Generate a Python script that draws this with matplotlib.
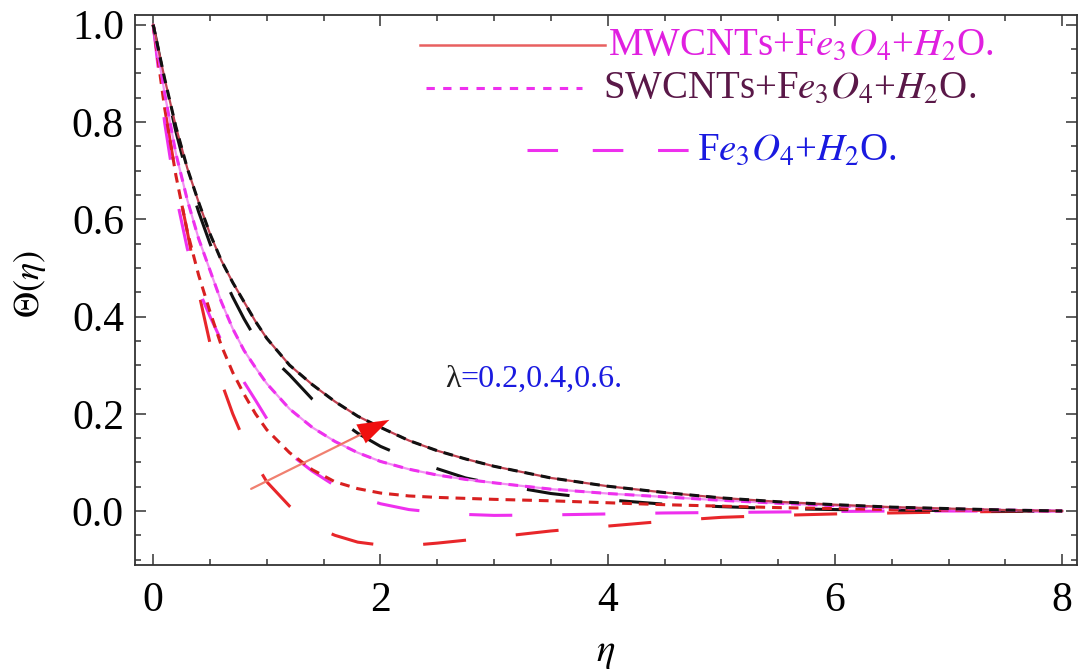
import numpy as np
import matplotlib
matplotlib.use("Agg")
import matplotlib.pyplot as plt
from matplotlib.ticker import MultipleLocator

# ---------------- data ----------------
eta = [0, 0.1, 0.2, 0.3, 0.4, 0.5, 0.6, 0.7, 0.8, 0.9, 1.0, 1.2, 1.4, 1.6, 1.8, 2.0,
       2.25, 2.5, 2.75, 3.0, 3.5, 4.0, 4.5, 5.0, 5.5, 6.0, 6.5, 7.0, 7.5, 8.0]

# lambda = 0.6 (black), solid / short dash coincide
theta_black_solid = [1.0, 0.89, 0.79, 0.705, 0.635, 0.57, 0.515, 0.47, 0.43, 0.39, 0.355,
                     0.30, 0.26, 0.225, 0.195, 0.172, 0.145, 0.124, 0.107, 0.092, 0.068,
                     0.051, 0.038, 0.027, 0.019, 0.013, 0.008, 0.005, 0.002, 0.0]
# lambda = 0.6 (black), long dash
theta_black_long = [1.0, 0.885, 0.78, 0.69, 0.615, 0.55, 0.49, 0.44, 0.395, 0.355, 0.325,
                    0.28, 0.23, 0.193, 0.16, 0.133, 0.108, 0.087, 0.068, 0.056, 0.036,
                    0.023, 0.014, 0.009, 0.005, 0.003, 0.002, 0.001, 0.0, 0.0]
# lambda = 0.4 (magenta), solid / short dash coincide
theta_mag_solid = [1.0, 0.86, 0.735, 0.64, 0.56, 0.495, 0.43, 0.375, 0.33, 0.295, 0.262,
                   0.21, 0.172, 0.143, 0.12, 0.102, 0.086, 0.074, 0.065, 0.058, 0.045,
                   0.036, 0.029, 0.022, 0.016, 0.011, 0.007, 0.004, 0.002, 0.0]
# lambda = 0.4 (magenta), long dash
theta_mag_long = [1.0, 0.80, 0.65, 0.54, 0.455, 0.40, 0.35, 0.305, 0.265, 0.228, 0.19,
                  0.118, 0.082, 0.052, 0.03, 0.015, 0.003, -0.003, -0.007, -0.009, -0.008,
                  -0.006, -0.004, -0.003, -0.002, -0.001, 0.0, 0.0, 0.0, 0.0]
# lambda = 0.2 (red), short dash
theta_red_short = [1.0, 0.83, 0.69, 0.575, 0.485, 0.41, 0.34, 0.285, 0.24, 0.2, 0.167,
                   0.12, 0.085, 0.06, 0.046, 0.037, 0.031, 0.028, 0.026, 0.024, 0.021,
                   0.017, 0.013, 0.010, 0.007, 0.005, 0.003, 0.002, 0.001, 0.0]
# lambda = 0.2 (red), long dash
theta_red_long = [1.0, 0.83, 0.69, 0.575, 0.45, 0.345, 0.265, 0.2, 0.145, 0.099, 0.06,
                  0.01, -0.03, -0.05, -0.064, -0.070, -0.071, -0.066, -0.06, -0.054, -0.041,
                  -0.031, -0.021, -0.013, -0.009, -0.006, -0.004, -0.002, -0.001, 0.0]

x_ticks = [0, 2, 4, 6, 8]
y_ticks = [0.0, 0.2, 0.4, 0.6, 0.8, 1.0]
legend_labels = [r"MWCNTs+F$e_3O_4$+$H_2$O.",
                 r"SWCNTs+F$e_3O_4$+$H_2$O.",
                 r"F$e_3O_4$+$H_2$O."]
lambda_prefix = "λ"
lambda_text = "=0.2,0.4,0.6."

# ---------------- style ----------------
plt.rcParams["font.family"] = ["Liberation Serif", "DejaVu Serif"]
plt.rcParams["mathtext.fontset"] = "stix"
plt.rcParams["lines.scale_dashes"] = False

RED = "#e8262a"
MAG = "#ee30ee"
MAG_LIGHT = "#f290f2"
BLACK = "#111111"
SHORT = (0, (7, 5))
LONG = (0, (31, 36))

fig = plt.figure(figsize=(10.88, 6.72), dpi=100)
ax = fig.add_axes([135 / 1088, 1 - 565 / 672, 942 / 1088, 550 / 672])

lw = 2.2
ax.plot(eta, theta_red_long, color=RED, lw=lw, ls=LONG)
ax.plot(eta, theta_mag_long, color=MAG, lw=lw, ls=LONG)
ax.plot(eta, theta_black_long, color=BLACK, lw=lw, ls=LONG)
ax.plot(eta, theta_red_short, color="#d82020", lw=lw, ls=SHORT)
ax.plot(eta, theta_mag_solid, color=MAG_LIGHT, lw=1.6)
ax.plot(eta, theta_mag_solid, color=MAG, lw=lw, ls=SHORT)
ax.plot(eta, theta_black_solid, color="#c04050", lw=1.6)
ax.plot(eta, theta_black_solid, color=BLACK, lw=lw, ls=SHORT)

ax.set_xlim(-0.16, 8.13)
ax.set_ylim(-0.111, 1.02)
ax.set_xticks(x_ticks)
ax.set_xticklabels([str(v) for v in x_ticks])
ax.set_yticks(y_ticks)
ax.set_yticklabels([f"{v:.1f}" for v in y_ticks])
ax.xaxis.set_minor_locator(MultipleLocator(0.5))
ax.yaxis.set_minor_locator(MultipleLocator(0.05))
ax.tick_params(which="both", direction="in", top=True, right=True, width=1.1, color="#333333")
ax.tick_params(which="major", length=8, labelsize=30)
ax.tick_params(axis="x", which="major", pad=12)
ax.tick_params(axis="y", which="major", pad=8)
ax.tick_params(which="minor", length=4.5)
for s in ax.spines.values():
    s.set_linewidth(1.3)
    s.set_color("#333333")

ax.set_xlabel(r"$\eta$", fontsize=28)
ax.xaxis.set_label_coords(0.5, -0.125)
ax.set_ylabel(r"$\Theta(\eta)$", fontsize=26)
ax.yaxis.set_label_coords(-0.092, 0.51)

# legend (manual, as in the reference)
tr = ax.transAxes
ax.plot([0.3025, 0.499], [0.945, 0.945], transform=tr, color="#e86060", lw=1.8)
ax.text(0.502, 0.945, legend_labels[0], transform=tr, color="#e020e0", fontsize=28,
        va="center", ha="left")
ax.plot([0.309, 0.4745], [0.867, 0.867], transform=tr, color=MAG, lw=2.2, ls=(0, (6, 6)))
ax.text(0.497, 0.867, legend_labels[1], transform=tr, color="#5a1848", fontsize=28,
        va="center", ha="left")
ax.plot([0.416, 0.592], [0.7545, 0.7545], transform=tr, color=MAG, lw=2.2, ls=(0, (22, 25)))
ax.text(0.597, 0.7545, legend_labels[2], transform=tr, color="#1a1ae0", fontsize=28,
        va="center", ha="left")

# lambda annotation with arrow
lam = ax.text(2.57, 0.27, lambda_prefix, color="#202020", fontsize=23, va="center", ha="left")
ax.annotate(lambda_text, xy=(1.0, 0.5), xycoords=lam, color="#1a1ae0", fontsize=23,
            va="center", ha="left")
ax.annotate("", xy=(1.85, 0.16), xytext=(0.84, 0.043),
            arrowprops=dict(arrowstyle="-", color="#f08070", lw=1.6))
ax.annotate("", xy=(2.10, 0.19), xytext=(1.6, 0.132),
            arrowprops=dict(arrowstyle="-|>,head_length=0.9,head_width=0.3",
                            color="#f01010", lw=0.1, mutation_scale=25))

fig.savefig("out.png", dpi=100)
